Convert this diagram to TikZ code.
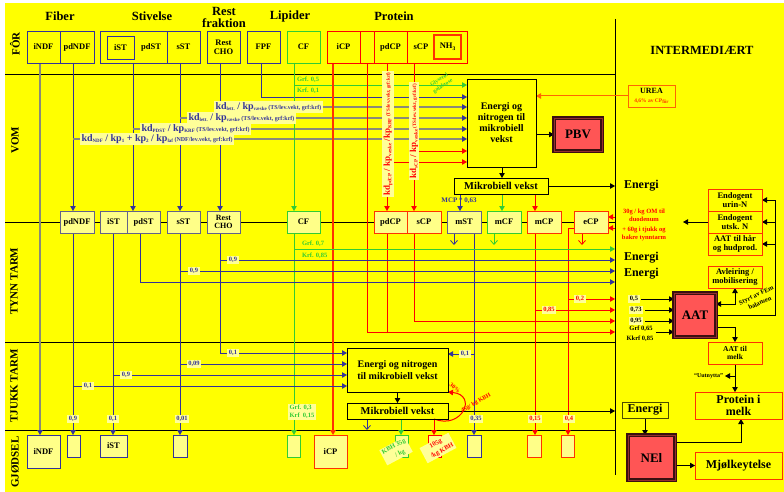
\documentclass[tikz,border=0pt]{standalone}
\usepackage{fontspec}
\setmainfont{Liberation Serif}
\usetikzlibrary{arrows.meta}
\pgfdeclarelayer{back}
\pgfsetlayers{back,main}
\definecolor{bgy}{HTML}{FFFF00}
\definecolor{pale}{HTML}{FFFF88}
\definecolor{lab}{HTML}{FFFF99}
\definecolor{navy}{HTML}{333399}
\definecolor{bgr}{HTML}{62628A}
\definecolor{grn}{HTML}{33CC33}
\definecolor{rd}{HTML}{FF0000}
\definecolor{org}{HTML}{FF3300}
\definecolor{ora}{HTML}{FF6600}
\definecolor{salm}{HTML}{FF5555}
\definecolor{dred}{HTML}{3A1010}
\definecolor{gry}{HTML}{8A8A78}
\newcommand{\fsz}[1]{\fontsize{#1}{#1}\selectfont}
\newcommand{\fsl}[2]{\fontsize{#1}{#2}\selectfont}
\newcommand{\sbs}[1]{\raisebox{-0.5ex}{\fontsize{5}{5}\selectfont #1}}
\begin{document}
\begin{tikzpicture}[x=1pt,y=-1pt,
  every node/.style={inner sep=0pt,outer sep=0pt,font=\bfseries},
  rect/.style args={#1/#2/#3/#4}{at={({(#1+#3)/2},{(#2+#4)/2})},minimum width={(#3)-(#1)},minimum height={(#4)-(#2)}},
  bx/.style={draw=navy,line width=0.8pt,align=center,font=\bfseries\fsl{8.5}{9}},
  tb/.style={bx,fill=pale,draw=bgr},
  ob/.style={draw=org,line width=0.9pt,fill=bgy,align=center,font=\bfseries\fsl{8.5}{9.5}},
  big/.style={draw=dred,line width=1.1pt,double=salm!45!dred,double distance=0.9pt,fill=salm,font=\bfseries\fsz{13}},
  lbl/.style={fill=lab,inner xsep=1.5pt,inner ysep=1.2pt,font=\bfseries\fsz{6.5}},
  hd/.style={font=\bfseries\fsl{12.5}{12},align=center},
  rowl/.style={font=\bfseries\fsz{11},rotate=90},
  en/.style={font=\bfseries\fsz{12},anchor=west},
  ln/.style={line width=0.8pt},
  gl/.style={gry,line width=1.3pt},
  tri/.style={-{Triangle[length=5pt,width=5.5pt]}},
  trib/.style={-{Triangle[length=5pt,width=5.5pt,color=navy]}},
  barb/.style={-{Straight Barb[length=4pt,width=7pt]}},
  sep/.style={line width=0.9pt,black}]
\useasboundingbox (0,0) rectangle (784,492);
\foreach \v in {40,73,113,133,140,180,220,261,294,333,367,387,401,414,434,454,460,474,494,502,535,568,582,615,641,645,656,725,735,741,775}
  \coordinate (x\v) at (\v,0);
\foreach \v in {85,97,107,118,129,139,151,162,217,228,249,260,271,282,299,304,310,315,321,327,332,353,354,364,375,376,386,442}
  \coordinate (y\v) at (0,\v);
\coordinate (freeL) at (683,222);
% headers
\node[hd] at (60,16) {Fiber};
\node[hd] at (152,16) {Stivelse};
\node[hd] at (224,17.5) {Rest\\fraktion};
\node[hd] at (290,16) {Lipider};
\node[hd] at (394,16) {Protein};
\node[hd] at (702,50) {INTERMEDIÆRT};
\node[rowl] at (15,44) {FÔR};
\node[rowl] at (15,140) {VOM};
\node[rowl] at (14,281) {TYNN TARM};
\node[rowl] at (14,386) {TJUKK TARM};
\node[rowl] at (15,462) {GJØDSEL};
% top row boxes
\node[bx,rect=27/31/60/63] (fiNDF) {iNDF};
\node[bx,rect=60/31/94/63] (fpdNDF) {pdNDF};
\node[bx,rect=100/31/167/63] (fST) {};
\node[bx,rect=107/36/134/59] (fiST) {iST};
\node[font=\bfseries\fsz{8.5}] (fpdST) at (151,47) {pdST};
\node[bx,rect=167/31/200/63] (fsST) {sST};
\node[bx,rect=207/31/240/63] (fRest) {Rest\\CHO};
\node[bx,rect=247/31/280/63] (fFPF) {FPF};
\node[bx,draw=grn,rect=287/31/320/63] (fCF) {CF};
\node[bx,draw=rd,rect=327/31/360/63] (fiCP) {iCP};
\node[bx,draw=rd,rect=360/31/374/63] (fxCP) {};
\node[bx,draw=rd,rect=374/31/407/63] (fpdCP) {pdCP};
\node[bx,draw=rd,rect=407/31/467/63] (fsCP) {};
\node[font=\bfseries\fsz{8.5}] (fsCPt) at (421,47) {sCP};
\node[bx,draw=org,line width=1.2pt,rect=434/35/461/59] (fNH) {NH\raisebox{-0.5ex}{\fsz{5.5}3}};
% VOM boxes
\node[bx,draw=black,rect=467/79/536/167,font=\bfseries\fsl{10}{11}] (eNB) {Energi og\\nitrogen til\\mikrobiell\\vekst};
\node[big,rect=554/118/602/151] (PBV) {PBV};
\node[ob,draw=ora,rect=628/85/675/107,font=\bfseries\fsl{8}{8}] (UREA) {UREA\\[1pt]{\color{org}\fsz{5.5}4,6\% av CP\sbs{fôr}}};
\node[bx,draw=black,line width=0.9pt,rect=454/178/548/194,font=\bfseries\fsz{10.5}] (mikro) {Mikrobiell vekst};
% tynn tarm boxes
\node[tb,rect=60/211/94/233] (tpdNDF) {pdNDF};
\node[tb,rect=100/211/127/233] (tiST) {iST};
\node[tb,rect=127/211/160/233] (tpdST) {pdST};
\node[tb,rect=167/211/200/233] (tsST) {sST};
\node[tb,rect=207/211/240/233,font=\bfseries\fsl{8}{8.5}] (tRest) {Rest\\CHO};
\node[tb,draw=grn,rect=287/211/320/233] (tCF) {CF};
\node[tb,draw=org,rect=374/211/407/233] (tpdCP) {pdCP};
\node[tb,draw=org,rect=407/211/441/233] (tsCP) {sCP};
\node[tb,rect=447/211/481/233] (tmST) {mST};
\node[tb,draw=grn,rect=487/211/521/233] (tmCF) {mCF};
\node[tb,draw=org,rect=527/211/561/233] (tmCP) {mCP};
\node[tb,draw=org,rect=574/211/608/233] (teCP) {eCP};
% tjukk tarm boxes
\node[bx,draw=black,rect=347/348/448/392,font=\bfseries\fsl{10}{12}] (eNT) {Energi og nitrogen\\til mikrobiell vekst};
\node[bx,draw=black,rect=347/403/448/419,font=\bfseries\fsz{10.5}] (mikroT) {Mikrobiell vekst};
% gjodsel boxes
\node[tb,draw=navy,rect=27/435/60/468] (giNDF) {iNDF};
\node[tb,draw=navy,rect=67/435/80/457] (gpdNDF) {};
\node[tb,draw=navy,rect=100/435/127/457] (giST) {iST};
\node[tb,draw=navy,rect=173/435/187/457] (gsST) {};
\node[tb,draw=grn,rect=287/435/300/457] (gCF) {};
\node[tb,draw=org,rect=314/435/347/468] (giCP) {iCP};
\node[tb,draw=grn,rect=395/435/408/457] (gKg) {};
\node[tb,draw=rd,rect=428/435/441/457] (gKr) {};
\node[tb,draw=navy,rect=467/435/481/457] (gmST) {};
\node[tb,draw=org,rect=527/435/541/457] (gmCP) {};
\node[tb,draw=org,rect=561/435/574/457] (geCP) {};
% right side boxes
\node[ob,rect=708/189/762/211] (eu) {Endogent\\urin-N};
\node[ob,rect=708/211/762/233] (eut) {Endogent\\utsk. N};
\node[ob,rect=708/233/762/255] (ahh) {AAT til hår\\og hudprod.};
\node[ob,rect=708/266/762/288] (avl) {Avleiring /\\mobilisering};
\node[big,rect=674/293/716/337] (AAT) {AAT};
\node[ob,rect=708/342/762/364,font=\bfseries\fsl{7.5}{8.5}] (atm) {AAT til\\melk};
\node[ob,rect=695/392/782/419,font=\bfseries\fsl{12}{12}] (pim) {Protein i\\melk};
\node[ob,rect=695/452/782/479,font=\bfseries\fsz{12}] (mjk) {Mjølkeytelse};
\node[big,rect=628/435/675/480] (NEl) {NEl};
\node[bx,draw=black!70!bgy,line width=1pt,rect=622/402/668/418,font=\bfseries\fsz{12}] (eBox) {Energi};
% energy texts
\node[en] (en1) at (624,186) {Energi};
\node[en] (en2) at (624,258) {Energi};
\node[en] (en3) at (624,274) {Energi};
% kd labels
\node[lbl,anchor=west,text=navy] (k1) at (214,107) {{\fsz{10}kd}\sbs{lett.}{\fsz{10} / kp}\sbs{væske}{\fsz{6} (TS/lev.vekt, grf:krf)}};
\node[lbl,anchor=west,text=navy] (k2) at (187,118) {{\fsz{10}kd}\sbs{lett.}{\fsz{10} / kp}\sbs{væske}{\fsz{6} (TS/lev.vekt, grf:krf)}};
\node[lbl,anchor=west,text=navy] (k3) at (140,129) {{\fsz{10}kd}\sbs{PDST}{\fsz{10} / kp}\sbs{KRF}{\fsz{6} (TS/lev.vekt, grf:krf)}};
\node[lbl,anchor=west,text=navy] (k4) at (80,139) {{\fsz{10}kd}\sbs{NDF}{\fsz{10} / kp}\sbs{1}{\fsz{10} + kp}\sbs{2}{\fsz{10} / kp}\sbs{laf}{\fsz{6} (NDF/lev.vekt, grf:krf)}};
\node[lbl,rotate=90,text=rd] (k5) at (388,134) {{\fsz{9}kd}\sbs{pdCP}{\fsz{9} / kp}\sbs{væske}{\fsz{9} /kp}\sbs{KRF}{\fsz{5} (TS/lev.vekt, grf:krf)}};
\node[lbl,rotate=90,text=rd] (k6) at (414,131) {{\fsz{9}kd}\sbs{sCP}{\fsz{9} / kp}\sbs{væske}{\fsz{5} (TS/lev.vekt, grf:krf)}};
% green labels
\node[anchor=west,text=grn,font=\bfseries\fsz{6.5}] at (297,80) {Grf. 0,5};
\node[anchor=west,text=grn,font=\bfseries\fsz{6.5}] at (297,91) {Krf. 0,1};
\node[anchor=west,text=grn,font=\bfseries\fsz{6.5}] at (302,244) {Grf. 0,7};
\node[anchor=west,text=grn,font=\bfseries\fsz{6.5}] at (302,256) {Krf. 0,85};
\node[lbl,text=grn,align=left,font=\bfseries\fsl{6.5}{8}] at (302,412) {Grf. 0,3\\Krf\ \ 0,15};
\node[text=grn,align=center,rotate=33,font=\bfseries\fsl{5.5}{7}] at (441,83) {Glyserol\\galaktose};
% numeric labels
\node[lbl,text=navy] at (233,260) {0,9};
\node[lbl,text=navy] at (194,271) {0,9};
\node[lbl,text=navy] at (233,353) {0,1};
\node[lbl,text=navy] at (194,364) {0,09};
\node[lbl,text=navy] at (126,375) {0,9};
\node[lbl,text=navy] at (88,386) {0,1};
\node[lbl,text=navy] at (73,419) {0,9};
\node[lbl,text=navy] at (113,419) {0,1};
\node[lbl,text=navy] at (182,419) {0,01};
\node[lbl,text=navy] at (476,419) {0,35};
\node[lbl,text=navy] at (465,354) {0,1};
\node[lbl,text=rd] at (580,299) {0,2};
\node[lbl,text=rd] at (549,310) {0,85};
\node[lbl,text=rd] at (535,419) {0,15};
\node[lbl,text=rd] at (569,419) {0,4};
\node[lbl] at (634,299) {0,5};
\node[lbl] at (636,310) {0,73};
\node[lbl] at (636,321) {0,95};
\node[font=\bfseries\fsz{6.5}] at (641,329) {Grf 0,65};
\node[font=\bfseries\fsz{6.5}] at (640,339) {Kkrf 0,85};
\node[text=navy,font=\bfseries\fsz{7}] at (459,201) {MCP * 0,63};
% red notes
\node[text=rd,align=center,font=\bfseries\fsl{6.5}{8}] at (644,215) {30g / kg OM til\\duodenum};
\node[text=rd,align=center,font=\bfseries\fsl{6.5}{8}] at (644,234) {+ 60g i tjukk og\\bakre tynntarm};
\node[text=rd,rotate=-40,font=\bfseries\fsz{6}] at (455,388) {30\%};
\node[text=rd,rotate=30,font=\bfseries\fsz{6}] at (476,403) {45g/ kg KBH};
\node[lbl,rotate=28,text=grn,align=center,font=\bfseries\fsl{6.5}{9}] at (396,451) {KBH 35g\\\ \ \ / kg};
\node[lbl,rotate=28,text=rd,align=center,font=\bfseries\fsl{6.5}{9}] at (438,448) {105g\\\ \ \ /kg KBH};
% right notes
\node[rotate=25,align=center,font=\bfseries\fsl{6.5}{8.5}] at (758,299) {Styrt av FEm\\balansen};
\node[anchor=east,font=\bfseries\fsz{6}] at (723,376) {``Uutnytta''};

\begin{pgfonlayer}{back}
\fill[white] (0,0) rectangle (784,492);
\fill[bgy] (5,3) rectangle (784,492);
% separators
\draw[sep] (5,74) -- (615,74);
\draw[sep] (5,222) -- (615,222);
\draw[sep] (5,342) -- (615,342);
\draw[sep] (5,430) -- (615,430);
\draw[sep] (615,19) -- (615,475);
% connectors FOR -> VOM
\draw[gl,trib] (fiNDF.south -| x40) -- (giNDF.north -| x40);
\draw[navy,ln,tri] (fpdNDF.south -| x73) -- (tpdNDF.north -| x73);
\draw[gl,trib] (x73 |- y139) -- (eNB.west |- y139);
\draw[navy,ln,tri] (fST.south -| x133) -- (tpdST.north -| x133);
\draw[gl,trib] (x133 |- y129) -- (eNB.west |- y129);
\draw[navy,ln,tri] (fsST.south -| x180) -- (tsST.north -| x180);
\draw[gl,trib] (x180 |- y118) -- (eNB.west |- y118);
\draw[navy,ln,tri] (fRest.south -| x220) -- (tRest.north -| x220);
\draw[gl,trib] (x220 |- y107) -- (eNB.west |- y107);
\draw[navy,ln,tri] (fFPF.south -| x261) -- (x261 |- y97) -- (eNB.west |- y97);
\draw[grn,ln,tri] (fCF.south -| x294) -- (tCF.north -| x294);
\draw[grn,ln,tri] (x294 |- y85) -- (eNB.west |- y85);
\draw[org,line width=1.6pt,tri] (fiCP.south -| x333) -- (giCP.north -| x333);
\draw[rd,ln,tri] (fxCP.south) -- (x367 |- y332) -- (x615 |- y332);
\draw[rd,ln,tri] (fpdCP.south -| x387) -- (tpdCP.north -| x387);
\draw[rd,ln,tri] (x387 |- y162) -- (eNB.west |- y162);
\draw[rd,ln] (tpdCP.south -| x387) -- (x387 |- y332);
\draw[rd,ln,tri] (fsCP.south -| x414) -- (tsCP.north -| x414);
\draw[rd,ln,tri] (x414 |- y151) -- (eNB.west |- y151);
\draw[rd,ln,tri] (tsCP.south -| x414) -- (x414 |- y321) -- (x615 |- y321);
% VOM internal
\draw[ln,tri] (eNB.south -| x502) -- (mikro.north -| x502);
\draw[ln,tri] (eNB.east |- PBV.west) -- (PBV.west);
\draw[ora,line width=1pt,tri] (UREA.west) -- (eNB.east |- UREA.west);
\draw[ln,tri] (mikro.east) -- (x615 |- mikro.east);
\draw[navy,ln,tri] (mikro.south -| x460) -- (tmST.north -| x460);
\draw[grn,ln,tri] (mikro.south -| x502) -- (tmCF.north -| x502);
\draw[rd,ln,tri] (mikro.south -| x535) -- (tmCP.north -| x535);
% tynn tarm connectors
\draw[navy,ln,barb] (tmST.south -| x454) -- ++(0,12);
\draw[grn,ln,barb] (tmCF.south -| x494) -- ++(0,12);
\draw[rd,ln,barb] (teCP.south -| x582) -- ++(0,12);
\draw[navy,ln,tri] (tmST.south -| x474) -- (gmST.north -| x474);
\draw[navy,ln,tri] (x474 |- y354) -- (eNT.east |- y354);
\draw[rd,ln,tri] (tmCP.south -| x535) -- (gmCP.north -| x535);
\draw[rd,ln,tri] (x535 |- y310) -- (x615 |- y310);
\draw[rd,ln,tri] (teCP.west |- y228) -- (x568 |- y228) -- (geCP.north -| x568);
\draw[rd,ln,tri] (x568 |- y299) -- (x615 |- y299);
\draw[rd,ln,tri] (x615 |- y217) -- (teCP.east |- y217);
\draw[rd,ln,tri] (x615 |- y228) -- (teCP.east |- y228);
\draw[grn,ln,tri] (tCF.south -| x294) -- (gCF.north -| x294);
\draw[grn,ln,tri] (x294 |- y249) -- (x615 |- y249);
\draw[navy,ln,tri] (tRest.south -| x220) -- (x220 |- y353) -- (eNT.west |- y353);
\draw[navy,ln,tri] (x220 |- y260) -- (x615 |- y260);
\draw[navy,ln,tri] (tsST.south -| x180) -- (gsST.north -| x180);
\draw[navy,ln,tri] (x180 |- y271) -- (x615 |- y271);
\draw[navy,ln,tri] (x180 |- y364) -- (eNT.west |- y364);
\draw[navy,ln,tri] (tpdST.south -| x140) -- (x140 |- y282) -- (x615 |- y282);
\draw[navy,ln,tri] (tiST.south -| x113) -- (giST.north -| x113);
\draw[navy,ln,tri] (x113 |- y375) -- (eNT.west |- y375);
\draw[navy,ln,tri] (tpdNDF.south -| x73) -- (gpdNDF.north -| x73);
\draw[navy,ln,tri] (x73 |- y386) -- (eNT.west |- y386);
% tjukk tarm connectors
\draw[ln,tri] (eNT.south) -- (mikroT.north);
\draw[ln,tri] (mikroT.east) -- (x615 |- mikroT.east);
\draw[navy,ln,barb] (mikroT.south -| x367) -- ++(0,11);
\draw[grn,ln,tri] (mikroT.south -| x401) -- (gKg.north -| x401);
\draw[rd,ln,tri] (mikroT.south -| x434) -- (gKr.north -| x434);
\draw[rd,line width=1pt,tri] (mikroT.south -| x434) .. controls (462,430) and (478,395) .. (eNT.south east);
% right side connectors
\draw[ln,tri] (eBox.south) -- (NEl.north -| eBox.south);
\draw[ln,tri] (eut.west) -- (freeL);
\draw[ln] (AAT.east |- y315) -- (x775 |- y315) -- (x775 |- eu.east);
\draw[ln,tri] (x775 |- eu.east) -- (eu.east);
\draw[ln,tri] (x775 |- eut.east) -- (eut.east);
\draw[ln,tri] (x775 |- ahh.east) -- (ahh.east);
\draw[ln,{Triangle[length=5pt,width=5.5pt]}-{Triangle[length=5pt,width=5.5pt]}] (AAT.east |- y304) -- (x735 |- y304) -- (avl.south -| x735);
\draw[ln,tri] (AAT.east |- y327) -- (x735 |- y327) -- (atm.north -| x735);
\draw[ln,tri] (atm.south -| x735) -- (pim.north -| x735);
\draw[ln,tri] (x735 |- y376) -- (x725 |- y376);
\draw[ln,tri] (NEl.east |- y442) -- (x741 |- y442) -- (pim.south -| x741);
\draw[ln,tri] (NEl.east |- mjk.west) -- (mjk.west);
\draw[ln,tri] (x641 |- y299) -- (AAT.west |- y299);
\draw[ln,tri] (x645 |- y310) -- (AAT.west |- y310);
\draw[ln,tri] (x645 |- y321) -- (AAT.west |- y321);
\draw[ln,tri] (x656 |- y332) -- (AAT.west |- y332);
\end{pgfonlayer}
\end{tikzpicture}
\end{document}
